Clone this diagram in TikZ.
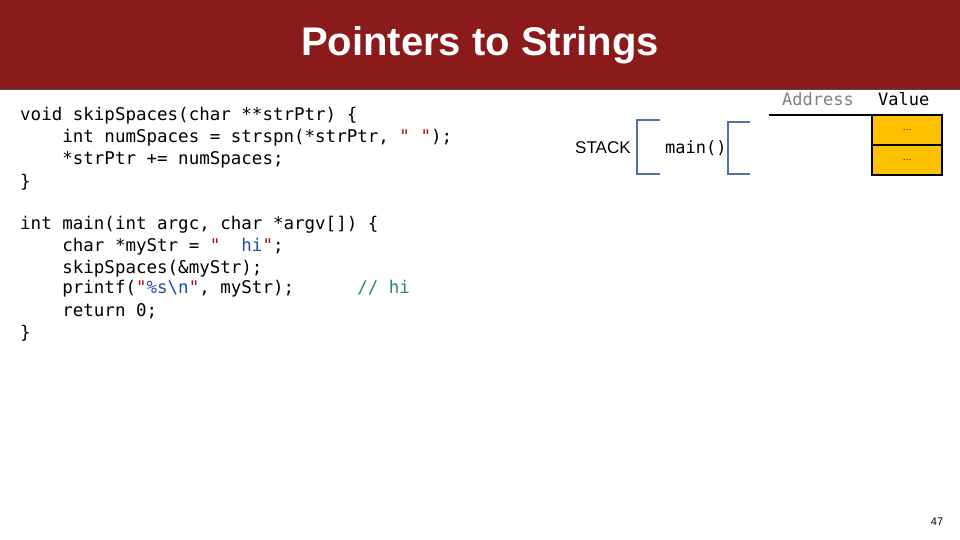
\documentclass[tikz,border=0pt]{standalone}
\usepackage{fontspec}
\setmainfont{Liberation Sans}
\newfontfamily\codefont{DejaVu Sans Mono}
\definecolor{titlered}{HTML}{8B1A1A}
\definecolor{brk}{HTML}{4F72A8}
\definecolor{strc}{HTML}{A31515}
\definecolor{strb}{HTML}{1F4FB0}
\definecolor{cmt}{HTML}{2E8B57}
\definecolor{cell}{HTML}{FFC000}
\begin{document}
\begin{tikzpicture}[x=1pt,y=-1pt,
  code/.style={anchor=west,inner sep=0,font=\codefont\fontsize{17.5}{20}\selectfont},
  bracket/.style={draw=brk,line width=1.5pt},
  cellbox/.style={draw=black,line width=1.2pt,fill=cell,minimum width=70pt,minimum height=30pt,font=\fontsize{9}{10}\selectfont,inner sep=0}]
\useasboundingbox (0,0) rectangle (960,540);
\fill[white] (0,0) rectangle (960,540);
\fill[titlered] (0,0) rectangle (960,90);
\draw[black!70,line width=1pt] (0,90) -- (960,90);
\node[text=white,font=\bfseries\fontsize{40}{44}\selectfont] (title) at (480,45) {Pointers to Strings};
\node[code] (l1) at (20,116) {void skipSpaces(char **strPtr) \{};
\node[code] (l2) at (20,138) {\ \ \ \ int numSpaces = strspn(*strPtr, \textcolor{strc}{" "});};
\node[code] (l3) at (20,160) {\ \ \ \ *strPtr += numSpaces;};
\node[code] (l4) at (20,182) {\}};
\node[code] (l5) at (20,225) {int main(int argc, char *argv[]) \{};
\node[code] (l6) at (20,247) {\ \ \ \ char *myStr = \textcolor{strc}{"}\textcolor{strb}{\ \ hi}\textcolor{strc}{"};};
\node[code] (l7) at (20,269) {\ \ \ \ skipSpaces(\&myStr);};
\node[code] (l8) at (20,289) {\ \ \ \ printf(\textcolor{strc}{"}\textcolor{strb}{\%s\textbackslash n}\textcolor{strc}{"}, myStr);\ \ \ \ \ \ \textcolor{cmt}{// hi}};
\node[code] (l9) at (20,311) {\ \ \ \ return 0;};
\node[code] (l10) at (20,333) {\}};
\node[anchor=west,inner sep=0,font=\fontsize{17}{20}\selectfont] (stack) at (575,148) {STACK};
\draw[bracket] (660,120) -- (637,120) -- (637,174) -- (660,174);
\node[code,font=\codefont\fontsize{17}{20}\selectfont] (main) at (665,148) {main()};
\draw[bracket] (750,122) -- (728,122) -- (728,174) -- (750,174);
\node[code,text=gray,font=\codefont\fontsize{17}{20}\selectfont] (addr) at (782,99) {Address};
\node[code,font=\codefont\fontsize{17}{20}\selectfont] (val) at (878,99) {Value};
\draw[black,line width=1.2pt] (769,115) -- (872,115);
\node[cellbox] (c1) at (907,130) {…};
\node[cellbox] (c2) at (907,160) {…};
\node[font=\fontsize{11}{12}\selectfont] (pg) at (937,522) {47};
\end{tikzpicture}
\end{document}
